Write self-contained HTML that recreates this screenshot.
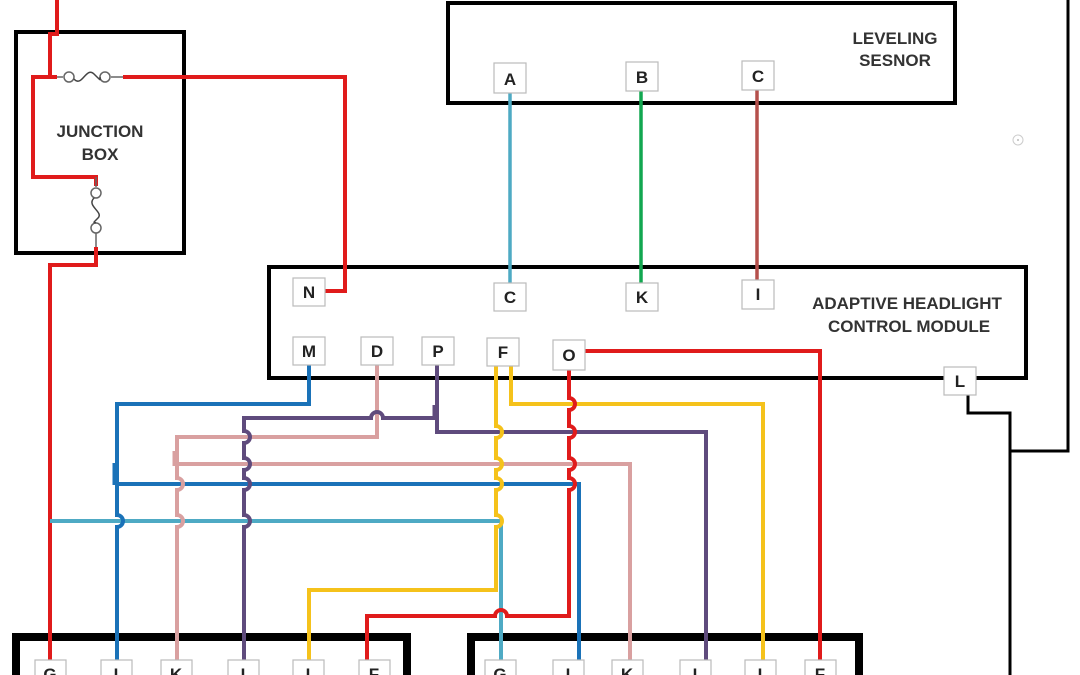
<!DOCTYPE html>
<html><head><style>html,body{margin:0;padding:0;background:#fff;width:1080px;height:675px;overflow:hidden}</style></head>
<body>
<svg width="1080" height="675" viewBox="0 0 1080 675" xmlns="http://www.w3.org/2000/svg" font-family="Liberation Sans, sans-serif">
<g fill="none" stroke="#000" stroke-width="4">
<rect x="448" y="3" width="507" height="100"/>
<rect x="269" y="267" width="757" height="111"/>
<rect x="16" y="32" width="168" height="221"/>
<path d="M968 395 V413 H1010 V675 M1010 451 H1068 V0" stroke-width="3"/>
</g>
<rect x="16" y="637" width="391" height="60" fill="none" stroke="#000" stroke-width="8"/>
<rect x="471" y="637" width="388" height="60" fill="none" stroke="#000" stroke-width="8"/>
<circle cx="1018" cy="140" r="5" fill="none" stroke="#ccc" stroke-width="1"/>
<circle cx="1018" cy="140" r="1" fill="#bbb"/>
<g fill="none" stroke-width="4" stroke-linejoin="miter">
<path d="M510 93 V283" stroke="#4eaac4" stroke-width="3.5"/>
<path d="M641 91 V283" stroke="#12a750" stroke-width="3.5"/>
<path d="M757 90 V280" stroke="#b5504c" stroke-width="3.5"/>
<!-- red junction -->
<path d="M57 0 V34 H50 V77 H33 V177 H96 V186 M50 77 H57 M123 77 H345 V291 H325" stroke="#e01b1b"/>
<path d="M96 247 V265 H50 V665" stroke="#e01b1b"/>
<!-- light blue -->
<path d="M50 521 H501 V665" stroke="#4eaac4"/>
<!-- blue -->
<path d="M309 365 V404 H117 V515 a6 6 0 0 1 0 12 V665" stroke="#1a72b8"/>
<path d="M117 484 H579 V665" stroke="#1a72b8"/>
<path d="M115 463 V485" stroke="#1a72b8" stroke-width="5"/>
<!-- pink -->
<path d="M377 365 V437 H177 V478 a6 6 0 0 1 0 12 V515 a6 6 0 0 1 0 12 V665" stroke="#d9a0a0"/>
<path d="M177 464 H630 V665" stroke="#d9a0a0"/>
<path d="M175 451 V466" stroke="#d9a0a0" stroke-width="5"/>
<!-- purple -->
<path d="M437 365 V418 H383 a6 6 0 0 0 -12 0 H244 V431 a6 6 0 0 1 0 12 V458 a6 6 0 0 1 0 12 V478 a6 6 0 0 1 0 12 V515 a6 6 0 0 1 0 12 V665" stroke="#5f4b7d"/>
<path d="M437 418 V432 H706 V665" stroke="#5f4b7d"/>
<path d="M435 405 V420" stroke="#5f4b7d" stroke-width="5"/>
<!-- yellow -->
<path d="M496 365 V426 a6 6 0 0 1 0 12 V458 a6 6 0 0 1 0 12 V478 a6 6 0 0 1 0 12 V515 a6 6 0 0 1 0 12 V590 H309 V665" stroke="#f5c21b"/>
<path d="M511 365 V404 H763 V665" stroke="#f5c21b"/>
<!-- red O -->
<path d="M569 370 V398 a6 6 0 0 1 0 12 V426 a6 6 0 0 1 0 12 V458 a6 6 0 0 1 0 12 V478 a6 6 0 0 1 0 12 V616 H507 a6 6 0 0 0 -12 0 H367 V665" stroke="#e01b1b"/>
<path d="M585 351 H820 V665" stroke="#e01b1b"/>
</g>
<!-- fuses -->
<g fill="none" stroke="#666" stroke-width="1.5">
<path d="M57 77 H63 M111 77 H123"/>
<circle cx="69" cy="77" r="5" fill="#fff"/><circle cx="105" cy="77" r="5" fill="#fff"/>
<path d="M74 79 C82 88 86 66 94 74 S100 80 100 77" stroke="#444"/>
<path d="M96 177 V187 M96 233 V247"/>
<circle cx="96" cy="193" r="5" fill="#fff"/><circle cx="96" cy="228" r="5" fill="#fff"/>
<path d="M94 198 C86 206 104 212 98 218 S94 222 96 223" stroke="#444"/>
</g>
<g font-weight="bold" fill="#333" text-anchor="middle">
<text x="100" y="137" font-size="17">JUNCTION</text>
<text x="100" y="160" font-size="17">BOX</text>
<text x="895" y="44" font-size="17">LEVELING</text>
<text x="895" y="66" font-size="17">SESNOR</text>
<text x="907" y="309" font-size="17">ADAPTIVE HEADLIGHT</text>
<text x="909" y="332" font-size="17">CONTROL MODULE</text>
</g>
<g fill="#fff" stroke="#bbb" stroke-width="1.2">
<rect x="494" y="63" width="32" height="30"/><rect x="626" y="62" width="32" height="29"/><rect x="742" y="61" width="32" height="29"/>
<rect x="293" y="278" width="32" height="28"/><rect x="494" y="283" width="32" height="28"/><rect x="626" y="283" width="32" height="28"/><rect x="742" y="280" width="32" height="29"/>
<rect x="293" y="337" width="32" height="28"/><rect x="361" y="337" width="32" height="28"/><rect x="422" y="337" width="32" height="28"/><rect x="487" y="338" width="32" height="28"/><rect x="553" y="340" width="32" height="30"/>
<rect x="944" y="367" width="32" height="28"/>
<rect x="35" y="660" width="31" height="30"/><rect x="101" y="660" width="31" height="30"/><rect x="161" y="660" width="31" height="30"/><rect x="228" y="660" width="31" height="30"/><rect x="293" y="660" width="31" height="30"/><rect x="359" y="660" width="31" height="30"/>
<rect x="485" y="660" width="31" height="30"/><rect x="553" y="660" width="31" height="30"/><rect x="612" y="660" width="31" height="30"/><rect x="680" y="660" width="31" height="30"/><rect x="745" y="660" width="31" height="30"/><rect x="805" y="660" width="31" height="30"/>
</g>
<g font-weight="bold" fill="#222" font-size="17" text-anchor="middle">
<text x="510" y="85">A</text><text x="642" y="83">B</text><text x="758" y="82">C</text>
<text x="309" y="298">N</text><text x="510" y="303">C</text><text x="642" y="303">K</text><text x="758" y="300">I</text>
<text x="309" y="357">M</text><text x="377" y="357">D</text><text x="438" y="357">P</text><text x="503" y="358">F</text><text x="569" y="361">O</text>
<text x="960" y="387">L</text>
<text x="50" y="680">G</text><text x="116" y="680">I</text><text x="176" y="680">K</text><text x="243" y="680">I</text><text x="308" y="680">I</text><text x="374" y="680">F</text>
<text x="500" y="680">G</text><text x="568" y="680">I</text><text x="627" y="680">K</text><text x="695" y="680">I</text><text x="760" y="680">I</text><text x="820" y="680">F</text>
</g>
</svg>
</body></html>
